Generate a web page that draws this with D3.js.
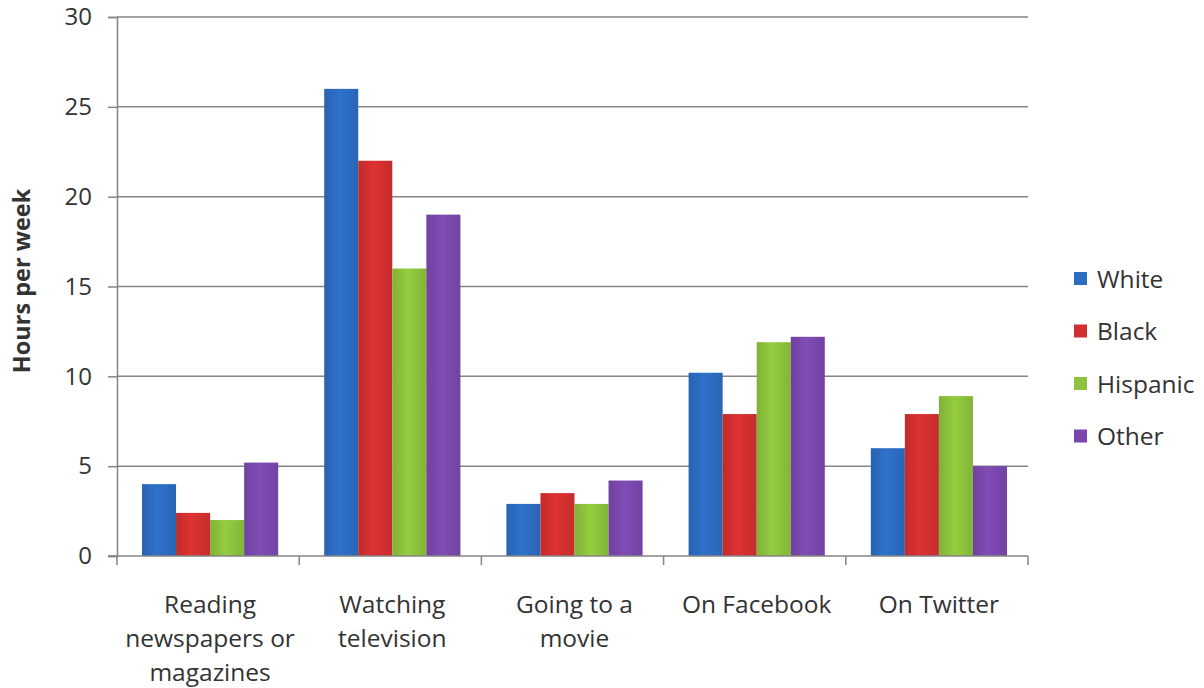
<!DOCTYPE html>
<html><head><meta charset="utf-8">
<script src="https://cdn.jsdelivr.net/npm/d3@7"></script>
<style>body{margin:0;background:#fff}svg{display:block}text{font-family:"Open Sans",sans-serif;fill:#333}</style>
</head><body><svg id="c" width="1204" height="688"></svg>
<script>
const categories = [["Reading","newspapers or","magazines"],["Watching","television"],["Going to a","movie"],["On Facebook"],["On Twitter"]];
const seriesNames = ["White","Black","Hispanic","Other"];
const white    = [4, 26, 2.9, 10.2, 6];
const black    = [2.4, 22, 3.5, 7.9, 7.9];
const hispanic = [2, 16, 2.9, 11.9, 8.9];
const other    = [5.2, 19, 4.2, 12.2, 5];
const yTicks = [0,5,10,15,20,25,30];
const yTitle = "Hours per week";
const colors = ["#2c6cc1","#d22f2f","#8cc23c","#7a48ad"];

const series = [white, black, hispanic, other];
const svg = d3.select("#c");
const L = 117, R = 1028, T = 17, B = 556;
const x0 = d3.scaleBand().domain(d3.range(categories.length)).range([L, R]).padding(0);
const gap = 25;
const x1 = d3.scaleBand().domain(d3.range(seriesNames.length)).range([gap, x0.bandwidth() - gap + 4]).padding(0);
const y = d3.scaleLinear().domain([0, 30]).range([B, T]);

// gradients
const defs = svg.append("defs");
colors.forEach((c, i) => {
  const g = defs.append("linearGradient").attr("id", "g" + i).attr("x1", 0).attr("x2", 1).attr("y1", 0).attr("y2", 0);
  g.append("stop").attr("offset", "0%").attr("stop-color", d3.color(c).darker(0.25));
  g.append("stop").attr("offset", "45%").attr("stop-color", d3.color(c).brighter(0.15));
  g.append("stop").attr("offset", "100%").attr("stop-color", d3.color(c).darker(0.2));
});

// gridlines
svg.append("g").selectAll("line").data(yTicks.filter(d => d > 0)).join("line")
  .attr("x1", L).attr("x2", R).attr("y1", d => y(d)).attr("y2", d => y(d))
  .attr("stroke", "#858585").attr("stroke-width", 1.5);

// y axis
const ya = svg.append("g").attr("transform", `translate(${L},0)`)
  .call(d3.axisLeft(y).tickValues(yTicks).tickSize(9).tickPadding(16));
ya.select(".domain").attr("stroke", "#858585").attr("stroke-width", 1.5);
ya.selectAll(".tick line").attr("stroke", "#858585").attr("stroke-width", 1.5);
ya.selectAll(".tick text").attr("font-size", 24).attr("font-family", "Open Sans").attr("fill", "#333");

// bars
const groups = svg.append("g").selectAll("g").data(categories).join("g")
  .attr("transform", (d, i) => `translate(${x0(i)},0)`);
groups.selectAll("rect").data((d, i) => series.map((s, k) => ({k, v: s[i]}))).join("rect")
  .attr("x", d => x1(d.k)).attr("width", x1.bandwidth())
  .attr("y", d => y(d.v)).attr("height", d => B - y(d.v))
  .attr("fill", d => `url(#g${d.k})`);

// x axis
const xa = svg.append("g").attr("transform", `translate(0,${B})`);
xa.append("line").attr("x1", L - 9).attr("x2", R).attr("y1", 0).attr("y2", 0).attr("stroke", "#858585").attr("stroke-width", 1.5);
xa.selectAll("line.t").data(d3.range(categories.length + 1)).join("line").attr("class", "t")
  .attr("x1", i => L + i * x0.bandwidth()).attr("x2", i => L + i * x0.bandwidth())
  .attr("y1", 0).attr("y2", 9).attr("stroke", "#858585").attr("stroke-width", 1.5);
const lab = xa.selectAll("text").data(categories).join("text")
  .attr("text-anchor", "middle").attr("font-size", 24.5)
  .attr("x", (d, i) => x0(i) + x0.bandwidth() / 2 + 2).attr("y", 57);
lab.selectAll("tspan").data(d => d).join("tspan")
  .attr("x", function () { return d3.select(this.parentNode).attr("x"); })
  .attr("dy", (d, j) => j === 0 ? 0 : 34).text(d => d);

// y title
svg.append("text").attr("transform", "translate(30,281) rotate(-90)")
  .attr("text-anchor", "middle").attr("font-size", 23.5).attr("font-weight", "bold").attr("fill", "#111").text(yTitle);

// legend
const lg = svg.append("g").selectAll("g").data(seriesNames).join("g")
  .attr("transform", (d, i) => `translate(1074,${279 + i * 52.5})`);
lg.append("rect").attr("x", 0).attr("y", -7).attr("width", 13).attr("height", 13).attr("fill", (d, i) => colors[i]);
lg.append("text").attr("x", 23).attr("y", 0).attr("dy", "0.35em").attr("font-size", 24.5).text(d => d);
</script></body></html>
